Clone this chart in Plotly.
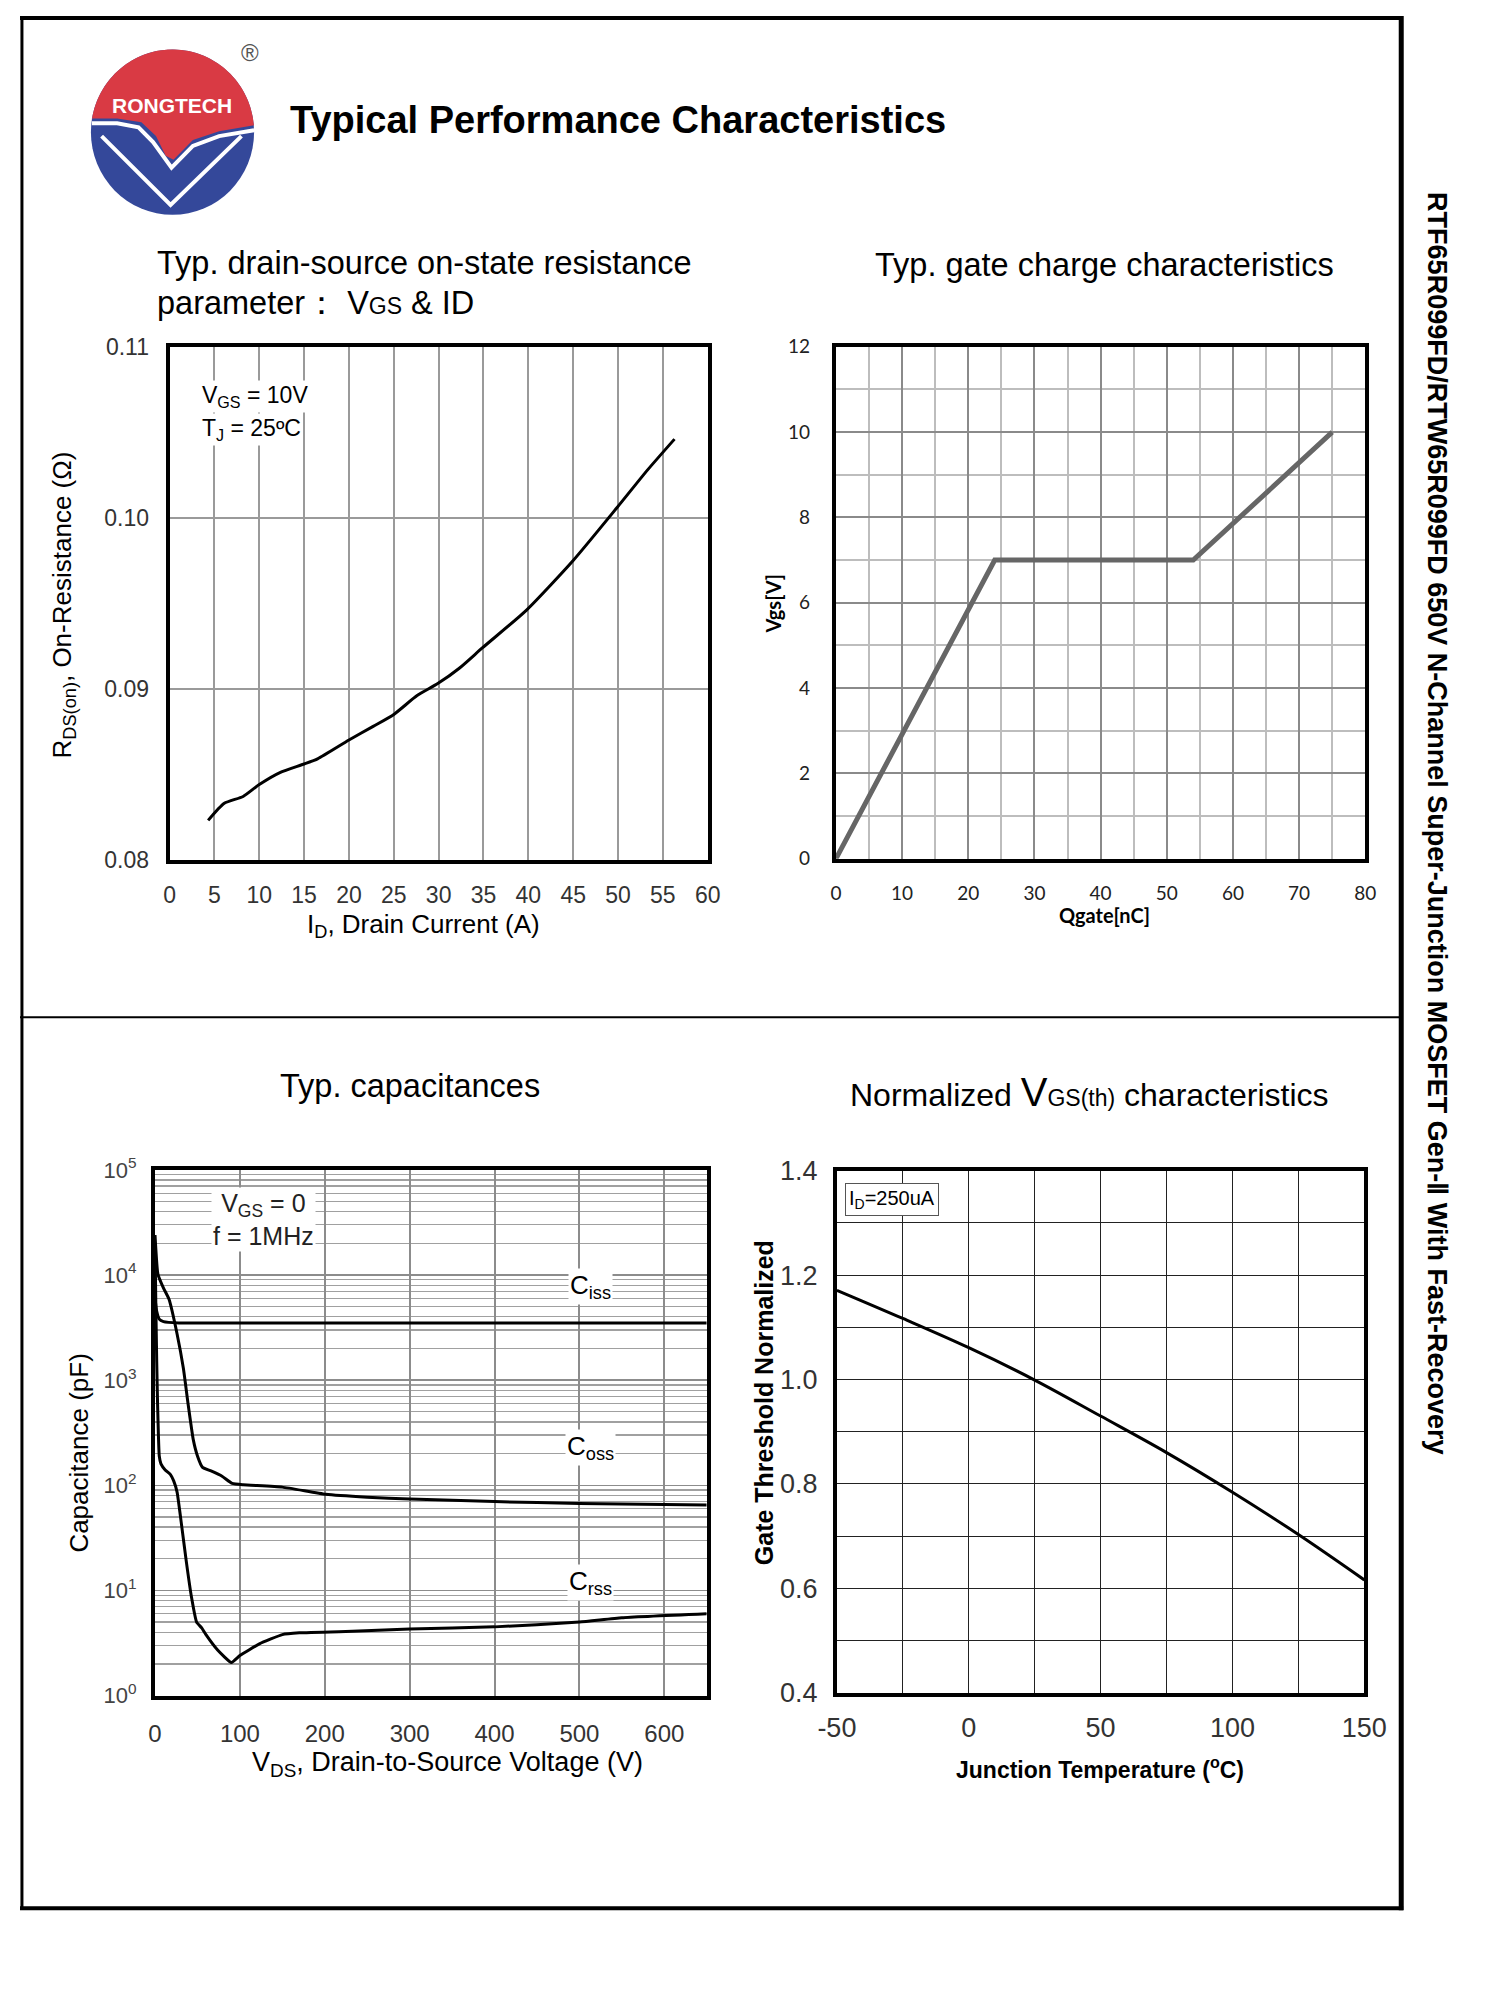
import numpy as np
import plotly.graph_objects as go

W, H = 1500, 2000
FONT = "Liberation Sans"

# ---------------- data ----------------
id_current = [4.3, 6.1, 8.2, 10, 12.3, 15, 16.5, 20, 22.7, 25, 27.6, 29.9, 32.3, 34.9, 39.8, 45, 49.9, 53.3, 56.3]
rds_on = [0.0823, 0.0833, 0.0837, 0.0844, 0.0851, 0.0856, 0.0859, 0.0870, 0.0878, 0.0885, 0.0896,
          0.0903, 0.0912, 0.0924, 0.0946, 0.0975, 0.1006, 0.1028, 0.1046]

qgate = [0, 24, 54, 75]
vgs = [0, 7, 7, 10]

ciss_v = [0, 2, 5, 10, 28, 100, 200, 300, 400, 500, 650]
ciss_c = [6000, 4500, 3800, 3600, 3500, 3500, 3500, 3500, 3500, 3500, 3500]

coss_v = [0, 3.4, 10, 16.4, 26, 33.5, 39, 45, 50, 56, 66, 79, 91, 104, 150, 201, 250, 300, 400, 500, 650]
coss_c = [24000, 10200, 7500, 5900, 2750, 1280, 590, 273, 190, 148, 137, 122, 104, 101, 96, 82, 77, 74, 70, 67, 65]

crss_v = [0, 1, 2, 3, 4, 5, 7, 12, 18, 22, 26, 31.6, 37, 43, 49, 55, 60, 74, 90, 100, 123, 150, 170, 240,
          300, 400, 500, 550, 650]
crss_c = [20000, 5000, 1500, 600, 300, 190, 160, 140, 127, 110, 86, 40, 18.5, 8.6, 5.0, 4.4, 3.8, 2.7, 2.06,
          2.4, 3.1, 3.8, 3.95, 4.1, 4.3, 4.5, 5.0, 5.5, 6.0]

temp_c = [-50, -25, 0, 25, 50, 75, 100, 125, 150]
vth_norm = [1.171, 1.117, 1.061, 0.999, 0.930, 0.860, 0.784, 0.703, 0.616]

cap_tickvals = [1, 10, 100, 1000, 10000, 100000]
cap_ticktext = ["10<sup>0</sup>", "10<sup>1</sup>", "10<sup>2</sup>", "10<sup>3</sup>", "10<sup>4</sup>", "10<sup>5</sup>"]
temp_tickvals = [-50, 0, 50, 100, 150]
temp_ticktext = ["-50", "0", "50", "100", "150"]

# ---------------- helpers ----------------
def X(px):
    return px / W

def Y(py):
    return 1 - py / H

def dom_x(a, b):
    return [X(a), X(b)]

def dom_y(top, bottom):
    return [Y(bottom), Y(top)]

fig = go.Figure()

# chart 1
fig.add_trace(go.Scatter(x=id_current, y=rds_on, mode="lines", line=dict(color="black", width=3, shape="spline", smoothing=0.6),
                         xaxis="x", yaxis="y", showlegend=False, hoverinfo="skip"))
# chart 2
fig.add_trace(go.Scatter(x=qgate, y=vgs, mode="lines", line=dict(color="#666666", width=5),
                         xaxis="x2", yaxis="y2", showlegend=False, hoverinfo="skip"))
# chart 3
for vv, cc in [(ciss_v, ciss_c), (coss_v, coss_c), (crss_v, crss_c)]:
    fig.add_trace(go.Scatter(x=vv, y=cc, mode="lines", line=dict(color="black", width=3, shape="spline", smoothing=0.4),
                             xaxis="x3", yaxis="y3", showlegend=False, hoverinfo="skip"))
# chart 4
fig.add_trace(go.Scatter(x=temp_c, y=vth_norm, mode="lines", line=dict(color="black", width=3, shape="spline"),
                         xaxis="x4", yaxis="y4", showlegend=False, hoverinfo="skip"))

frame = dict(showline=True, linecolor="black", linewidth=4, mirror=True, zeroline=False, ticks="")

layout = dict(
    width=W, height=H, margin=dict(l=0, r=0, t=0, b=0),
    paper_bgcolor="white", plot_bgcolor="white", showlegend=False,
    font=dict(family=FONT, color="black"),
    # chart 1
    xaxis=dict(domain=dom_x(154, 708), anchor="y", range=[0, 60], tickvals=list(range(0, 61, 5)),
               showgrid=True, gridcolor="#9a9a9a", gridwidth=2, ticklabelstandoff=12,
               tickfont=dict(size=23, color="#333"), **frame),
    yaxis=dict(domain=dom_y(336, 857), anchor="x", range=[0.08, 0.11], tickvals=[0.08, 0.09, 0.10, 0.11],
               tickformat=".2f", showgrid=True, gridcolor="#9a9a9a", gridwidth=2, ticklabelstandoff=12,
               tickfont=dict(size=23, color="#333"), **frame),
    # chart 2
    xaxis2=dict(domain=dom_x(840, 1385), anchor="y2", range=[0, 80], tickvals=list(range(0, 81, 10)),
                showgrid=True, gridcolor="#8a8a8a", gridwidth=2, ticklabelstandoff=14,
                minor=dict(tickvals=list(range(5, 80, 10)), showgrid=True, gridcolor="#bdbdbd", gridwidth=2),
                tickfont=dict(size=19, color="#222", family="Lato"), **frame),
    yaxis2=dict(domain=dom_y(336, 856), anchor="x2", range=[0, 12], tickvals=list(range(0, 13, 2)),
                showgrid=True, gridcolor="#8a8a8a", gridwidth=2, ticklabelstandoff=18,
                minor=dict(tickvals=list(range(1, 12, 2)), showgrid=True, gridcolor="#bdbdbd", gridwidth=2),
                tickfont=dict(size=19, color="#222", family="Lato"), **frame),
    # chart 3
    xaxis3=dict(domain=dom_x(139, 707), anchor="y3", range=[0, 650], tickvals=list(range(0, 601, 100)),
                showgrid=True, gridcolor="#8c8c8c", gridwidth=2, ticklabelstandoff=14,
                tickfont=dict(size=24, color="#333"), **frame),
    yaxis3=dict(domain=dom_y(1172, 1706), anchor="x3", type="log", range=[0, 5], tickvals=cap_tickvals,
                ticktext=cap_ticktext, showgrid=True, gridcolor="#8c8c8c", gridwidth=1.5, ticklabelstandoff=10,
                minor=dict(tickvals=[m * 10 ** d for d in range(5) for m in range(2, 10)], showgrid=True,
                           gridcolor="#a0a0a0", gridwidth=1.3),
                tickfont=dict(size=22, color="#444"), **frame),
    # chart 4
    xaxis4=dict(domain=dom_x(841, 1384), anchor="y4", range=[-50, 150], tickvals=temp_tickvals,
                ticktext=temp_ticktext,
                showgrid=True, gridcolor="#222", gridwidth=1, ticklabelstandoff=8,
                minor=dict(tickvals=list(range(-25, 150, 50)), showgrid=True, gridcolor="#222", gridwidth=1),
                tickfont=dict(size=27, color="#333"), **frame),
    yaxis4=dict(domain=dom_y(1173, 1703), anchor="x4", range=[0.4, 1.4],
                tickvals=[0.4, 0.6, 0.8, 1.0, 1.2, 1.4], tickformat=".1f",
                showgrid=True, gridcolor="#222", gridwidth=1, ticklabelstandoff=10,
                minor=dict(tickvals=[0.5, 0.7, 0.9, 1.1, 1.3], showgrid=True, gridcolor="#222", gridwidth=1),
                tickfont=dict(size=27, color="#333"), **frame),
)
fig.update_layout(**layout)

ann = []

def text(px, py, s, size, bold=False, xanchor="center", yanchor="middle", angle=0, color="black",
         family=FONT, bg=None, border=None):
    d = dict(x=X(px), y=Y(py), xref="paper", yref="paper", text=("<b>%s</b>" % s) if bold else s,
             showarrow=False, xanchor=xanchor, yanchor=yanchor, textangle=angle,
             font=dict(size=size, color=color, family=family))
    if bg:
        d["bgcolor"] = bg
    if border:
        d["bordercolor"] = border
        d["borderwidth"] = 1
        d["borderpad"] = 3
    ann.append(d)

# page title
text(276, 106, "Typical Performance Characteristics", 38, bold=True, xanchor="left")
# side text
text(1459, 820, "RTF65R099FD/RTW65R099FD 650V N-Channel Super-Junction MOSFET Gen-\u2161 With Fast-Recovery",
     27, bold=True, angle=90)

# chart titles
text(139, 251, "Typ. drain-source on-state resistance", 32.5, xanchor="left")
text(139, 292, "parameter\uff1a V<span style='font-size:23px'>GS</span> & ID", 32.5, xanchor="left")
text(1117, 253, "Typ. gate charge characteristics", 32.5)
text(402, 1087, "Typ. capacitances", 32.5)
text(1101, 1093, "Normalized <span style='font-size:40px'>V</span><span style='font-size:23px'>GS(th)</span> characteristics", 32)

# chart 1 labels
text(45, 598, "R<sub>DS(on)</sub>, On-Resistance (\u03a9)", 26, angle=-90)
text(415, 924, "I<sub>D</sub>, Drain Current (A)", 26)
text(185, 386, "V<sub>GS</sub> = 10V", 23, xanchor="left", bg="white")
text(185, 420, "T<sub>J</sub> = 25\u00baC", 23, xanchor="left", bg="white")

# chart 2 labels
text(775, 597, "Vgs[V]", 20, bold=True, angle=-90, family="Lato")
text(1116, 913, "Qgate[nC]", 20, bold=True, family="Lato")

# chart 3 labels
text(61, 1460, "Capacitance (pF)", 26, angle=-90)
text(440, 1776, "V<sub>DS</sub>, Drain-to-Source Voltage (V)", 27)
text(251, 1222, "V<sub>GS</sub> = 0<br>f = 1MHz", 25, color="#222", bg="white")
text(587, 1291, "C<sub>iss</sub>", 26, bg="white")
text(587, 1454, "C<sub>oss</sub>", 26, bg="white")
text(587, 1591, "C<sub>rss</sub>", 26, bg="white")

# chart 4 labels
text(766, 1409, "Gate Threshold Normalized", 25, bold=True, angle=-90)
text(1112, 1780, "Junction Temperature (<sup>o</sup>C)", 23, bold=True)
text(849, 1202, "I<sub>D</sub>=250uA", 20, xanchor="left", bg="white", border="#555")

# logo text
text(157, 91, "RONGTECH", 21, bold=True, color="white")
text(237, 37, "\u00ae", 24, color="#555")

fig.update_layout(annotations=ann)

# ---------------- shapes ----------------
shapes = []

def line(x0, y0, x1, y1, w, color="black"):
    shapes.append(dict(type="line", xref="paper", yref="paper", x0=X(x0), y0=Y(y0), x1=X(x1), y1=Y(y1),
                       line=dict(color=color, width=w)))

# page frame
line(0, 2, 1423, 2, 4)
line(2, 0, 2, 1922, 3)
line(1422, 0, 1422, 1924, 5)
line(0, 1922, 1424, 1922, 4)
line(0, 1017, 1422, 1017, 2)

# logo (decoration)
cx, cy, r = 157, 118, 84
shapes.append(dict(type="circle", xref="paper", yref="paper", x0=X(cx - r), x1=X(cx + r), y0=Y(cy + r), y1=Y(cy - r),
                   fillcolor="#34489a", line=dict(width=0)))
angs = np.linspace(np.pi - np.arcsin(12 / r), 2 * np.pi + np.arcsin(6 / r), 80)
arc = [(cx + r * np.cos(a), cy + r * np.sin(a)) for a in angs]
arc = [p for p in arc if p[1] <= 113]
wave = [(241, 111), (205, 117), (178, 126), (158, 146), (150, 142), (140, 122), (125, 108), (100, 104), (74, 104)]
pts = arc + wave
path = "M " + " L ".join("%.5f,%.5f" % (X(p[0]), Y(p[1])) for p in pts) + " Z"
shapes.append(dict(type="path", xref="paper", yref="paper", path=path, fillcolor="#d93a44", line=dict(width=0)))
wline = [(74, 109), (100, 109), (122, 113), (137, 128), (156, 154), (178, 132), (205, 122), (241, 116)]
path = "M " + " L ".join("%.5f,%.5f" % (X(p[0]), Y(p[1])) for p in wline)
shapes.append(dict(type="path", xref="paper", yref="paper", path=path, line=dict(color="white", width=4)))
vline = [(84, 122), (155, 192), (228, 122)]
path = "M " + " L ".join("%.5f,%.5f" % (X(p[0]), Y(p[1])) for p in vline)
shapes.append(dict(type="path", xref="paper", yref="paper", path=path, line=dict(color="white", width=4)))

fig.update_layout(shapes=shapes)

fig.write_html("out.html", config={"displayModeBar": False, "staticPlot": True},
               post_script="document.body.style.margin='0';document.body.style.padding='0';")
